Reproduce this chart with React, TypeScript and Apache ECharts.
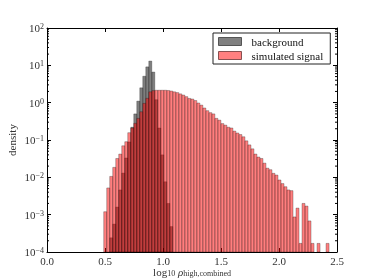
import React, { useEffect, useRef } from 'react';
import * as echarts from 'echarts';

// Histogram bins (log10 rho), common grid for both samples
const binStart = 0.489;
const binWidth = 0.0259;

const signal = [
  0.0012, 0.0052, 0.0106, 0.0185, 0.032, 0.042, 0.07, 0.09, 0.157, 0.21,
  0.28, 0.38, 0.57, 0.96, 1.31, 1.95, 2.1, 2.15, 2.15, 2.15,
  2.15, 2.12, 2.05, 1.95, 1.86, 1.72, 1.6, 1.45, 1.3, 1.25,
  1.14, 0.98, 0.86, 0.72, 0.61, 0.54, 0.5, 0.38, 0.34, 0.275,
  0.25, 0.22, 0.21, 0.173, 0.154, 0.14, 0.122, 0.095, 0.074, 0.058,
  0.042, 0.035, 0.032, 0.024, 0.0176, 0.016, 0.0128, 0.0115, 0.0085, 0.0068,
  0.0056, 0.0046, 0.0044, 0.00087, 0.0015, 0.00017, 0.002, 0.0017, 0.00068, 0.00017,
  0, 0.00017, 0, 0, 0.00017,
];

const background = [
  0, 0, 0.00024, 0.00056, 0.0016, 0.0046, 0.013, 0.033, 0.089, 0.22,
  0.5, 1.1, 2.5, 5.1, 9.1, 13, 6.6, 1.2, 0.21, 0.04,
  0.0076, 0.002, 0.00048,
];

const xTicks = [0, 0.5, 1.0, 1.5, 2.0, 2.5];
const yMin = 1e-4;
const yMax = 1e2;
const minorMultipliers = [2, 3, 4, 5, 6, 7, 8, 9];
const decades = [-4, -3, -2, -1, 0, 1];

const FONT = 'Liberation Serif';

function toBins(values: number[]) {
  return values
    .map((v, i) => [binStart + i * binWidth, binStart + (i + 1) * binWidth, v])
    .filter((d) => d[2] > 0);
}

export default function App() {
  const ref = useRef<HTMLDivElement>(null);
  useEffect(() => {
    const chart = echarts.init(ref.current!, null, { renderer: 'svg' });

    const barRenderer = (fill: string) => (params: any, api: any) => {
      const x0 = api.value(0);
      const x1 = api.value(1);
      const v = api.value(2);
      const p0 = api.coord([x0, v]);
      const p1 = api.coord([x1, yMin]);
      return {
        type: 'rect',
        shape: { x: p0[0], y: p0[1], width: p1[0] - p0[0], height: p1[1] - p0[1] },
        style: { fill, stroke: 'rgba(0,0,0,0.45)', lineWidth: 0.6 },
      };
    };

    const minorData: number[][] = [];
    decades.forEach((d) => minorMultipliers.forEach((m) => minorData.push([m * Math.pow(10, d)])));

    const yLabel = (v: number) => {
      const e = Math.round(Math.log10(v));
      return `{b|10}{s|${e < 0 ? '\u2212' + -e : e}}`;
    };

    const axisCommon = {
      axisLine: { show: true, onZero: false, lineStyle: { color: '#000', width: 1 } },
      splitLine: { show: false },
    };

    chart.setOption({
      animation: false,
      grid: { left: 47, right: 37, top: 28, bottom: 28, containLabel: false, outerBoundsMode: 'none' },
      legend: {
        left: 213,
        top: 33,
        orient: 'vertical',
        itemWidth: 23,
        itemHeight: 8,
        itemGap: 3,
        padding: [3, 7, 3, 5],
        borderColor: '#222',
        borderWidth: 1,
        backgroundColor: '#fff',
        textStyle: { fontFamily: FONT, fontSize: 11, color: '#111', padding: [0, 0, 0, 5] },
        data: [
          { name: 'background', icon: 'rect', itemStyle: { color: '#808080', borderColor: '#555', borderWidth: 1 } },
          { name: 'simulated signal', icon: 'rect', itemStyle: { color: '#ff8080', borderColor: '#885050', borderWidth: 1 } },
        ],
      },
      xAxis: [
        {
          ...axisCommon,
          type: 'value',
          min: 0,
          max: 2.5,
          interval: 0.5,
          position: 'bottom',
          axisTick: { show: true, inside: true, length: 4, lineStyle: { color: '#000' } },
          axisLabel: {
            margin: 3,
            fontFamily: FONT,
            fontSize: 11,
            color: '#333',
            formatter: (v: number) => v.toFixed(1),
            customValues: xTicks,
          },
          name: '{a|log}{s|10}{a| }{i|\u03c1}{s|high,combined}',
          nameLocation: 'middle',
          nameGap: 14,
          nameMoveOverlap: false,
          nameTextStyle: {
            rich: {
              a: { fontFamily: FONT, fontSize: 11, color: '#333' },
              i: { fontFamily: FONT, fontSize: 11, fontStyle: 'italic', color: '#333' },
              s: { fontFamily: FONT, fontSize: 8, color: '#333', verticalAlign: 'bottom' },
            },
          },
        },
        {
          ...axisCommon,
          type: 'value',
          min: 0,
          max: 2.5,
          interval: 0.5,
          position: 'top',
          axisTick: { show: true, inside: true, length: 4, lineStyle: { color: '#000' } },
          axisLabel: { show: false },
        },
      ],
      yAxis: [
        {
          ...axisCommon,
          type: 'log',
          logBase: 10,
          min: yMin,
          max: yMax,
          position: 'left',
          axisTick: { show: true, inside: true, length: 4, lineStyle: { color: '#000' } },
          axisLabel: {
            margin: 3,
            formatter: yLabel,
            rich: {
              b: { fontFamily: FONT, fontSize: 11, color: '#333' },
              s: { fontFamily: FONT, fontSize: 8, color: '#333', verticalAlign: 'top' },
            },
          },
          name: 'density',
          nameLocation: 'middle',
          nameGap: 30,
          nameMoveOverlap: false,
          nameTextStyle: { fontFamily: FONT, fontSize: 11, color: '#333' },
        },
        {
          ...axisCommon,
          type: 'log',
          logBase: 10,
          min: yMin,
          max: yMax,
          position: 'right',
          axisTick: { show: true, inside: true, length: 4, lineStyle: { color: '#000' } },
          axisLabel: { show: false },
        },
      ],
      series: [
        {
          name: 'background',
          type: 'custom',
          xAxisIndex: 0,
          yAxisIndex: 0,
          renderItem: barRenderer('rgba(0,0,0,0.5)'),
          encode: { x: [0, 1], y: 2 },
          itemStyle: { color: '#808080' },
          data: toBins(background),
          z: 2,
        },
        {
          name: 'simulated signal',
          type: 'custom',
          xAxisIndex: 0,
          yAxisIndex: 0,
          renderItem: barRenderer('rgba(255,0,0,0.5)'),
          encode: { x: [0, 1], y: 2 },
          itemStyle: { color: '#ff8080' },
          data: toBins(signal),
          z: 3,
        },
        {
          name: 'minorTicks',
          type: 'custom',
          xAxisIndex: 0,
          yAxisIndex: 0,
          silent: true,
          encode: { y: 0 },
          renderItem: (params: any, api: any) => {
            const v = api.value(0);
            const pl = api.coord([0, v]);
            const pr = api.coord([2.5, v]);
            return {
              type: 'group',
              children: [
                { type: 'line', shape: { x1: pl[0], y1: pl[1], x2: pl[0] + 2, y2: pl[1] }, style: { stroke: '#000', lineWidth: 1 } },
                { type: 'line', shape: { x1: pr[0], y1: pr[1], x2: pr[0] - 2, y2: pr[1] }, style: { stroke: '#000', lineWidth: 1 } },
              ],
            };
          },
          data: minorData,
          z: 5,
        },
      ],
    });
    return () => chart.dispose();
  }, []);
  return <div ref={ref} style={{ position: 'fixed', left: 0, top: 0, width: 374, height: 280 }} />;
}
